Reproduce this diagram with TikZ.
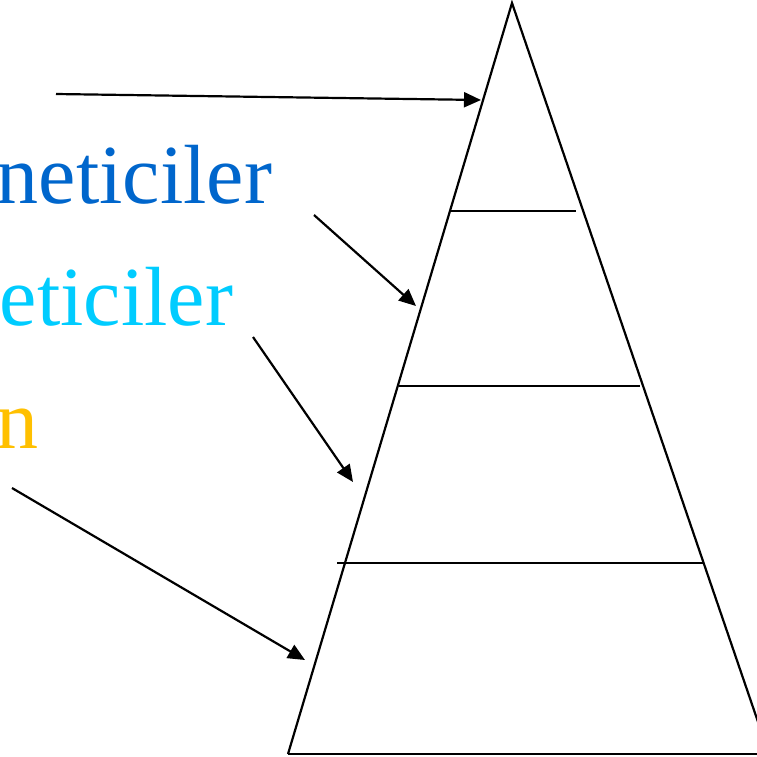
\documentclass[tikz,border=0pt]{standalone}
\usepackage{fontspec}
\usepackage{xcolor}
\usepackage{tikz}
\usetikzlibrary{arrows.meta, calc, positioning}
\setmainfont{Liberation Serif}
\definecolor{levelblue}{RGB}{0, 102, 204}
\definecolor{levelcyan}{RGB}{0, 204, 255}
\definecolor{levelgold}{RGB}{255, 192, 0}

\begin{document}
\begin{tikzpicture}[x=1pt, y=-1pt, line width=2.2pt,
    label/.style={inner sep=0pt, anchor=base east, font=\fontsize{84}{96}\selectfont},
    pointer/.style={-{Triangle[length=17pt, width=15pt]}}]
        \useasboundingbox (0,0) rectangle (757,756);
        \clip (0,0) rectangle (757,756);

        % pyramid corners
        \coordinate (apex) at (512,3);
        \coordinate (bl) at (288,754);
        \coordinate (br) at (769,754);
        \draw (bl) -- (apex) -- (br);
        \draw (bl) -- (br);

        % level lines
        \draw (450,211) -- (576,211);
        \draw (399,386) -- (640,386);
        \draw (337,563) -- (703,563);

        % labels (cut at the left)
        \node[label, text=levelblue] (top) at (273,203) {neticiler};
        \node[label, text=levelcyan] (mid) at (234,325) {eticiler};
        \node[label, text=levelgold] (low) at (40,448) {n};

        % arrows to the pyramid
        \coordinate (s1) at (56,94);    \coordinate (e1) at (481,100);
        \coordinate (s2) at (314,215);  \coordinate (e2) at (416,306);
        \coordinate (s3) at (253,337);  \coordinate (e3) at (353,482);
        \coordinate (s4) at (12,488);   \coordinate (e4) at (305,660);
        \draw[pointer] (s1) -- (e1);
        \draw[pointer] (s2) -- (e2);
        \draw[pointer] (s3) -- (e3);
        \draw[pointer] (s4) -- (e4);
    \end{tikzpicture}
\end{document}
